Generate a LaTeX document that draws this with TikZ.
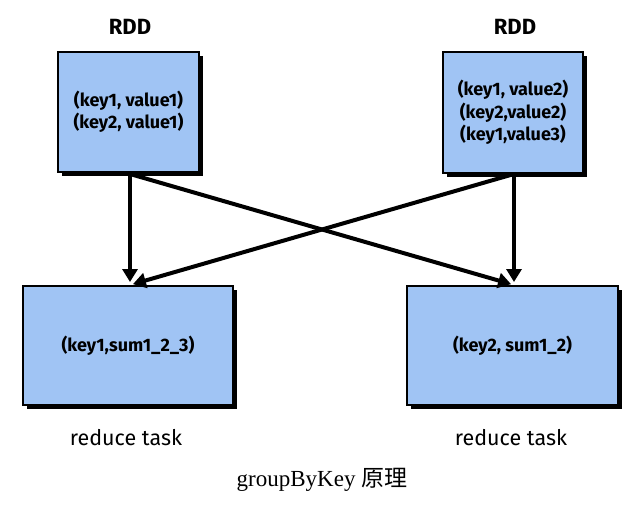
\documentclass[tikz,border=0pt]{standalone}
\usepackage{fontspec}
\setmainfont{Liberation Serif}
\newfontfamily\boxfont{Fira Sans}
\newfontfamily\cjk{Noto Sans CJK SC}
\usetikzlibrary{arrows.meta,shadows}
\definecolor{boxblue}{RGB}{160,196,244}
\begin{document}
\begin{tikzpicture}[x=1pt,y=-1pt,
  box/.style={draw=black, line width=2pt, fill=boxblue, inner sep=0pt,
    drop shadow={shadow xshift=4pt, shadow yshift=-4pt, opacity=1, fill=black},
    font=\boxfont\fontsize{18}{22.5}\selectfont\bfseries, align=center},
  title/.style={font=\boxfont\fontsize{22}{26}\selectfont\bfseries},
  tasklabel/.style={font=\boxfont\fontsize{21.5}{24}\selectfont},
  flow/.style={line width=4pt, -{Triangle[length=13pt,width=15pt]}, shorten >=3pt}
]
\useasboundingbox (0,0) rectangle (644,514);

\node[title] (rddL) at (130,27) {RDD};
\node[title] (rddR) at (515,27) {RDD};

\node[box, minimum width=141pt, minimum height=120pt] (tl) at (128.5,112)
  {(key1, value1)\\(key2, value1)};
\node[box, minimum width=140pt, minimum height=121pt] (tr) at (513,112.5)
  {(key1, value2)\\(key2,value2)\\(key1,value3)};

\node[box, minimum width=210pt, minimum height=119pt] (bl) at (128,345.5)
  {(key1,sum1\_2\_3)};
\node[box, minimum width=211pt, minimum height=119pt] (br) at (512.5,345.5)
  {(key2, sum1\_2)};

\node[tasklabel] (tl2) at (126,438) {reduce task};
\node[tasklabel] (tr2) at (511,438) {reduce task};

\coordinate (ls) at (130,174);
\coordinate (rs) at (514,174);
\draw[flow] (ls) -- (ls |- bl.north);
\draw[flow] (rs) -- (rs |- br.north);
\draw[flow] (ls) -- (rs |- br.north);
\draw[flow] (rs) -- (ls |- bl.north);

\node (cap) at (322,480) {\fontsize{23}{26}\selectfont groupByKey {\cjk 原理}};
\end{tikzpicture}
\end{document}
